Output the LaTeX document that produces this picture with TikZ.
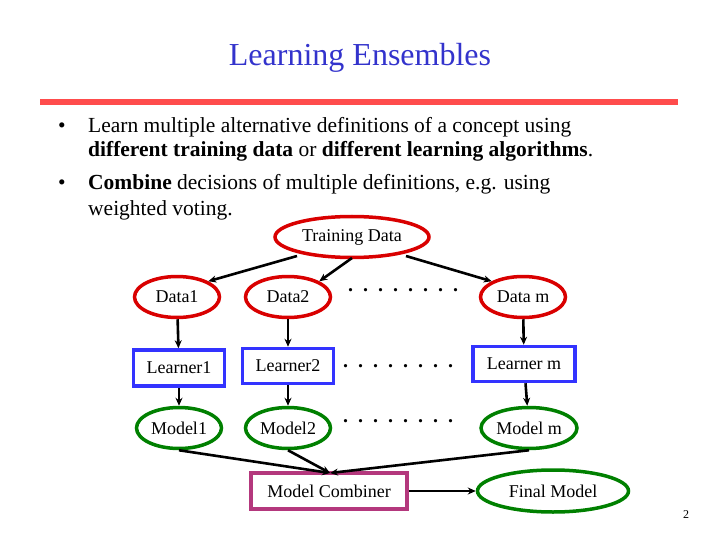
\documentclass[tikz,border=0pt]{standalone}
\usepackage{fontspec}
\setmainfont{Liberation Serif}
\usetikzlibrary{shapes.geometric,arrows.meta}
\definecolor{titleblue}{RGB}{51,51,204}
\begin{document}
\begin{tikzpicture}[x=1pt,y=-1pt,
  ell/.style={ellipse,draw,line width=3.5pt,inner sep=0pt,font=\fontsize{18}{20}\selectfont},
  rbox/.style={rectangle,draw,line width=3.5pt,inner sep=0pt,font=\fontsize{18}{20}\selectfont},
  arr/.style={-{Stealth[length=8pt,width=7pt]},line width=2.6pt},
  dots/.style={font=\fontsize{20}{22}\bfseries\selectfont}]
\useasboundingbox (0,0) rectangle (720,540);
\node[text=titleblue,font=\fontsize{32}{36}\selectfont] (title) at (360,58) {Learning Ensembles};
\fill[red!70!white] (40,99) rectangle (678,105);
\begin{scope}[font=\fontsize{21.5}{25}\selectfont,inner sep=0pt]
\node[anchor=base west] (b1) at (58,133) {•};
\node[anchor=base west] (t1) at (88,133) {Learn multiple alternative definitions of a concept using};
\node[anchor=base west] (t2) at (88,157) {\textbf{different training data} or \textbf{different learning algorithms}.};
\node[anchor=base west] (b2) at (58,190) {•};
\node[anchor=base west] (t3) at (88,190) {\textbf{Combine} decisions of multiple definitions, e.g. using};
\node[anchor=base west] (t4) at (88,215) {weighted voting.};
\end{scope}
\node[ell,draw=red!85!black,minimum width=154pt,minimum height=41pt] (td) at (352,237) {Training Data};
\node[ell,draw=red!85!black,minimum width=85pt,minimum height=41pt] (d1) at (177,297) {Data1};
\node[ell,draw=red!85!black,minimum width=85pt,minimum height=41pt] (d2) at (288,297) {Data2};
\node[ell,draw=red!85!black,minimum width=85pt,minimum height=41pt] (dm) at (523,297) {Data m};
\node[rbox,draw=blue!80!white,minimum width=91pt,minimum height=36pt] (l1) at (179,368) {Learner1};
\node[rbox,draw=blue!80!white,minimum width=91pt,minimum height=35pt] (l2) at (288,366) {Learner2};
\node[rbox,draw=blue!80!white,minimum width=102pt,minimum height=35pt] (lm) at (524,364) {Learner m};
\node[ell,draw=green!50!black,minimum width=85pt,minimum height=41pt] (m1) at (179,428) {Model1};
\node[ell,draw=green!50!black,minimum width=85pt,minimum height=41pt] (m2) at (288,428) {Model2};
\node[ell,draw=green!50!black,minimum width=96pt,minimum height=41pt] (mm) at (529,428) {Model m};
\node[rbox,draw=magenta!70!black,minimum width=156pt,minimum height=36pt] (mc) at (329,491) {Model Combiner};
\node[ell,draw=green!50!black,minimum width=151pt,minimum height=42pt] (fm) at (553,491) {Final Model};
\node[dots] (dd) at (403,290) {.\ \ .\ \ .\ \ .\ \ .\ \ .\ \ .\ \ .};
\node[dots] (dl) at (398,366) {.\ \ .\ \ .\ \ .\ \ .\ \ .\ \ .\ \ .};
\node[dots] (dmd) at (398,421) {.\ \ .\ \ .\ \ .\ \ .\ \ .\ \ .\ \ .};
\node[font=\fontsize{12}{14}\selectfont] (pg) at (686,515) {2};
\coordinate (ct) at (330,473);
\coordinate (s1) at (297,256);
\coordinate (s2) at (352,258);
\coordinate (s3) at (406,256);
\draw[arr] (s1) -- (d1.north east);
\draw[arr] (s2) -- (d2.north east);
\draw[arr] (s3) -- (dm.north west);
\draw[arr] (d1) -- (l1);
\draw[arr] (d2) -- (l2);
\draw[arr] (dm) -- (lm);
\draw[arr] (l1) -- (m1);
\draw[arr] (l2) -- (m2);
\draw[arr] (lm) -- (mm);
\draw[arr] (m1.south) -- (ct);
\draw[arr] (m2.south) -- (ct);
\draw[arr] (mm.south) -- (ct);
\draw[arr] (mc) -- (fm);
\end{tikzpicture}
\end{document}
